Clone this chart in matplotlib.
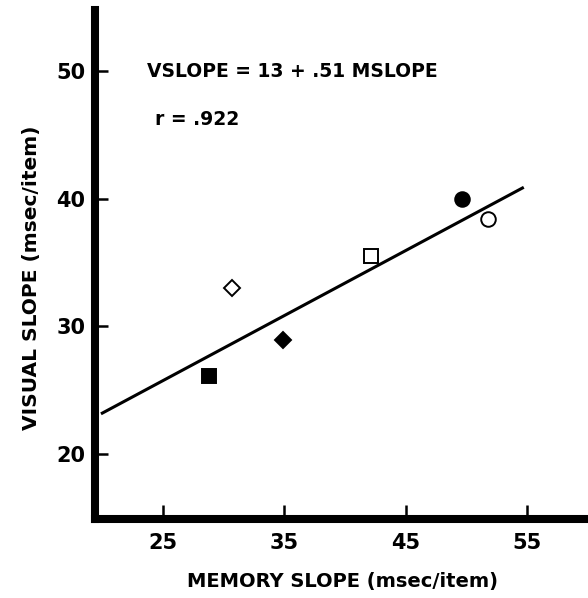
import matplotlib
matplotlib.use("Agg")
import matplotlib.pyplot as plt
import numpy as np

# memory slope vs visual slope (msec/item), one point per condition
mem_slope = [28.8, 34.9, 30.7, 42.1, 49.6, 51.8]
vis_slope = [26.1, 28.9, 33.0, 35.5, 40.0, 38.4]
markers = ["s", "D", "D", "s", "o", "o"]
filled = [True, True, False, False, True, False]

# fitted line: VSLOPE = 13 + .51 MSLOPE
intercept = 13
slope = 0.51
fit_x = [20, 54.6]

x_ticks = [25, 35, 45, 55]
y_ticks = [20, 30, 40, 50]

fig = plt.figure(figsize=(5.88, 5.98), dpi=100)
ax = fig.add_axes([0.1616, 0.1321, 0.8384, 0.8512])

fx = np.array(fit_x)
ax.plot(fx, intercept + slope * fx, color="black", linewidth=2.2, zorder=2)

for x, y, m, f in zip(mem_slope, vis_slope, markers, filled):
    size = 8.3 if m == "D" else 10.5
    ax.plot(x, y, marker=m, markersize=size, linestyle="none",
            markerfacecolor="black" if f else "white",
            markeredgecolor="black", markeredgewidth=1.4, zorder=3)

ax.set_xlim(19.4, 60)
ax.set_ylim(14.9, 54.8)
ax.set_xticks(x_ticks)
ax.set_yticks(y_ticks)
ax.tick_params(axis="x", direction="in", length=10, width=1.8, pad=10,
               labelsize=15)
ax.tick_params(axis="y", direction="in", length=9, width=1.8, pad=7,
               labelsize=15)
for lab in ax.get_xticklabels() + ax.get_yticklabels():
    lab.set_fontweight("heavy")

for s in ["top", "right"]:
    ax.spines[s].set_visible(False)
for s in ["left", "bottom"]:
    ax.spines[s].set_linewidth(5.8)
    ax.spines[s].set_capstyle("projecting")
    ax.spines[s].set_zorder(1)

ax.text(23.7, 50, "VSLOPE = 13 + .51 MSLOPE", fontsize=13.5, fontweight="heavy",
        va="center", ha="left")
ax.text(24.3, 46.2, "r = .922", fontsize=13.5, fontweight="heavy",
        va="center", ha="left")

fig.text(0.582, 0.027, "MEMORY SLOPE (msec/item)", fontsize=14,
         fontweight="heavy", ha="center", va="center")
fig.text(0.053, 0.535, "VISUAL SLOPE (msec/item)", fontsize=14.5,
         fontweight="heavy", ha="center", va="center", rotation=90)

fig.savefig("out.png", dpi=100)
